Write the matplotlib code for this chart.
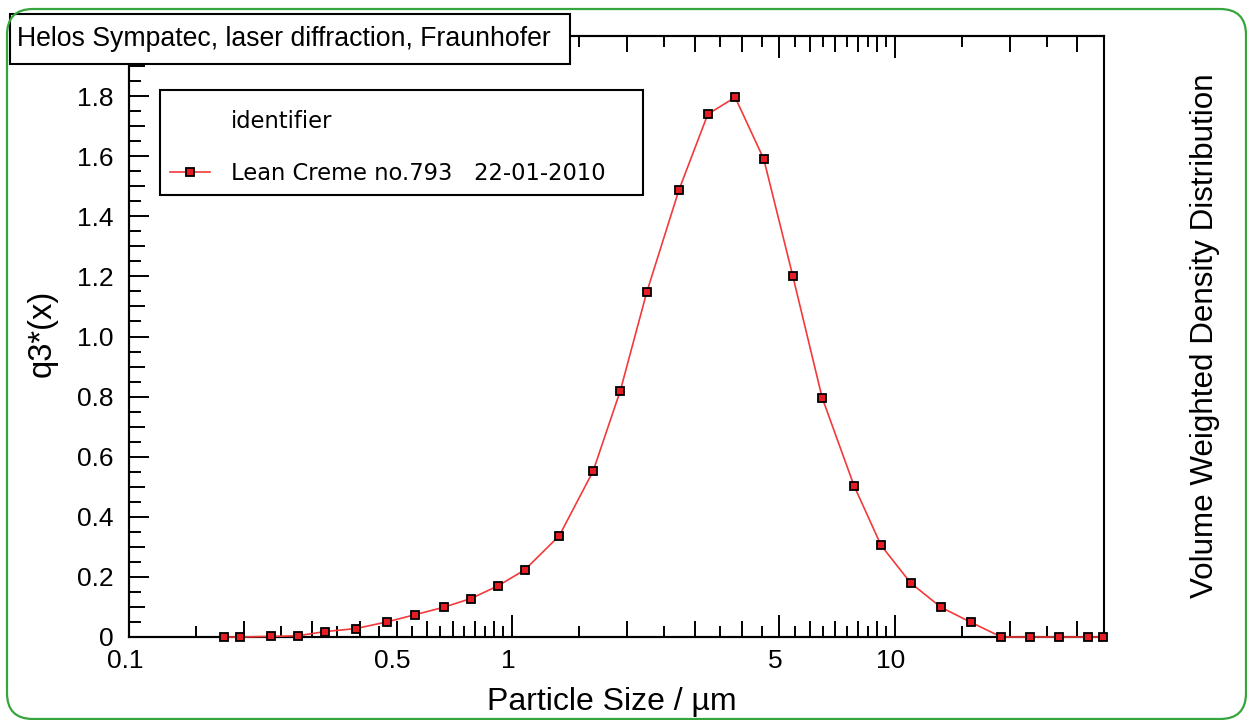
import matplotlib
matplotlib.use("Agg")
import matplotlib.pyplot as plt
from matplotlib.patches import Rectangle, FancyBboxPatch
from matplotlib.ticker import FixedLocator, FixedFormatter, NullLocator
from matplotlib.transforms import IdentityTransform, ScaledTranslation

# ---------------- data ----------------
particle_size_um = [0.177, 0.195, 0.235, 0.276, 0.325, 0.391, 0.471, 0.558,
                    0.664, 0.782, 0.919, 1.08, 1.33, 1.63, 1.92, 2.25, 2.73,
                    3.25, 3.83, 4.55, 5.42, 6.46, 7.83, 9.21, 11.0, 13.2,
                    15.8, 19.0, 22.6, 26.9, 32.0, 35.0]
q3_density = [0.0, 0.0, 0.002, 0.004, 0.018, 0.028, 0.050, 0.074,
              0.099, 0.128, 0.170, 0.223, 0.337, 0.552, 0.820, 1.147, 1.487,
              1.740, 1.796, 1.590, 1.200, 0.797, 0.503, 0.305, 0.180, 0.099,
              0.049, 0.0, 0.0, 0.0, 0.0, 0.0]

series_label = "Lean Creme no.793   22-01-2010"
legend_title = "identifier"
chart_title = "Helos Sympatec, laser diffraction, Fraunhofer"
x_label = "Particle Size / µm"
y_label = "q3*(x)"
right_label = "Volume Weighted Density Distribution"

x_major_ticks = [0.1, 1, 5, 10]
x_major_labels = ["0.1", "1", "5", "10"]
x_mid_ticks = [0.2, 0.3, 0.4, 0.5, 0.6, 0.7, 0.8, 0.9,
               2, 3, 4, 6, 7, 8, 9, 20, 30]
x_mid_labels = ["", "", "", "0.5", "", "", "", "",
                "", "", "", "", "", "", "", "", ""]
x_small_ticks = [0.15, 0.25, 0.35, 0.45, 0.55, 0.65, 0.75, 0.85, 0.95,
                 1.5, 2.5, 3.5, 4.5, 5.5, 6.5, 7.5, 8.5, 9.5, 15, 25]

y_major_ticks = [0, 0.2, 0.4, 0.6, 0.8, 1.0, 1.2, 1.4, 1.6, 1.8]
y_major_labels = ["0", "0.2", "0.4", "0.6", "0.8", "1.0", "1.2", "1.4", "1.6", "1.8"]
y_mid_ticks = [0.1, 0.3, 0.5, 0.7, 0.9, 1.1, 1.3, 1.5, 1.7, 1.9]
y_small_ticks = [0.05, 0.15, 0.25, 0.35, 0.45, 0.55, 0.65, 0.75, 0.85, 0.95,
                 1.05, 1.15, 1.25, 1.35, 1.45, 1.55, 1.65, 1.75, 1.85, 1.95]

# ---------------- figure ----------------
W, H = 1247, 720
fig = plt.figure(figsize=(W / 100, H / 100), dpi=100)
fig.patch.set_facecolor("white")

L, R, T, B = 129, 1104, 36, 637
ax = fig.add_axes([L / W, 1 - B / H, (R - L) / W, (B - T) / H])
ax.set_xscale("log")
ax.set_xlim(0.1, 35.2)
ax.set_ylim(0, 2.0)

LINE_RED = "#f23a3a"
FACE_RED = "#e61e24"

line, = ax.plot(particle_size_um, q3_density, color=LINE_RED, lw=1.2,
                marker="s", markersize=6.2, markerfacecolor=FACE_RED,
                markeredgecolor="black", markeredgewidth=1.3, clip_on=False,
                zorder=3)

for s in ax.spines.values():
    s.set_linewidth(1.5)
    s.set_color("black")

tick_family = ["Liberation Sans", "DejaVu Sans"]
tick_size = 19
label_font = ["Liberation Sans", "DejaVu Sans"]

# x ticks
ax.xaxis.set_major_locator(FixedLocator(x_major_ticks))
ax.xaxis.set_major_formatter(FixedFormatter(x_major_labels))
ax.xaxis.set_minor_locator(FixedLocator(x_mid_ticks))
ax.xaxis.set_minor_formatter(FixedFormatter(x_mid_labels))
ax.tick_params(axis="x", which="major", direction="in", length=16, width=1.4,
               top=True, bottom=True, pad=9, labelsize=tick_size)
ax.tick_params(axis="x", which="minor", direction="in", length=11.5, width=1.4,
               top=True, bottom=True, pad=9, labelsize=tick_size)
shift = ScaledTranslation(-4 / 100, 0, fig.dpi_scale_trans)
for t in ax.xaxis.get_major_ticks() + ax.xaxis.get_minor_ticks():
    t.label1.set_fontfamily(tick_family)
    t.label1.set_transform(t.label1.get_transform() + shift)

for loc in ("bottom", "top"):
    sec = ax.secondary_xaxis(loc)
    sec.xaxis.set_major_locator(FixedLocator(x_small_ticks))
    sec.xaxis.set_minor_locator(NullLocator())
    sec.tick_params(axis="x", which="major", direction="in", length=8, width=1.4,
                    labelbottom=False, labeltop=False)
    sec.spines[loc].set_linewidth(1.5)

# y ticks
ax.yaxis.set_major_locator(FixedLocator(y_major_ticks))
ax.yaxis.set_major_formatter(FixedFormatter(y_major_labels))
ax.yaxis.set_minor_locator(FixedLocator(y_mid_ticks))
ax.tick_params(axis="y", which="major", direction="in", length=14.5, width=1.4,
               left=True, right=False, pad=11, labelsize=tick_size)
ax.tick_params(axis="y", which="minor", direction="in", length=11.5, width=1.4,
               left=True, right=False)
for lab in ax.get_yticklabels():
    lab.set_fontfamily(tick_family)

secy = ax.secondary_yaxis("left")
secy.yaxis.set_major_locator(FixedLocator(y_small_ticks))
secy.yaxis.set_minor_locator(NullLocator())
secy.tick_params(axis="y", which="major", direction="in", length=8.5, width=1.4,
                 labelleft=False)
secy.spines["left"].set_linewidth(1.5)

# axis labels
ax.set_xlabel(x_label, fontsize=23, family=label_font)
ax.xaxis.set_label_coords((612 - L) / (R - L), (B - 702) / (B - T))
ax.xaxis.label.set_va("center")
ax.set_ylabel(y_label, fontsize=23.5, family=label_font)
ax.yaxis.set_label_coords((42 - L) / (R - L), (B - 333) / (B - T))
ax.yaxis.label.set_va("center")

fig.text(1205 / W, 1 - 336 / H, right_label, rotation=90, ha="center",
         va="center", fontsize=22.6, family=label_font)

# legend
fs = 16.3
hl, htp = 1.75, 0.94
leg = ax.legend(handles=[line], labels=[series_label], title=legend_title,
                loc="upper left",
                bbox_to_anchor=((160 - L) / (R - L), 0.0,
                                (643 - 160) / (R - L), (B - 90) / (B - T)),
                mode="expand", borderaxespad=0, frameon=True, fancybox=False,
                edgecolor="black", framealpha=1, handlelength=hl,
                handletextpad=htp, borderpad=0.45, labelspacing=1.7,
                alignment="left",
                prop=dict(family=["DejaVu Sans"], size=fs),
                title_fontproperties=dict(family=["DejaVu Sans"], size=fs))
leg.get_frame().set_linewidth(1.5)
leg.get_title().set_x((hl + htp) * fs * 100 / 72)
leg.get_title().set_y(-10)

# title box
fig.patches.append(Rectangle((10 / W, 1 - 64 / H), 560 / W, 50 / H,
                             transform=fig.transFigure, facecolor="white",
                             edgecolor="black", linewidth=1.5, zorder=5))
fig.text(17 / W, 1 - 39 / H, chart_title, ha="left", va="center",
         fontsize=19.2, family=label_font, zorder=6)

# green rounded border
fig.patches.append(FancyBboxPatch((7, 1), 1239, 710,
                                  boxstyle="round,pad=0,rounding_size=26",
                                  transform=IdentityTransform(),
                                  facecolor="none", edgecolor="#35a53c",
                                  linewidth=1.6, zorder=10))

fig.savefig("out.png", dpi=100, facecolor="white")
